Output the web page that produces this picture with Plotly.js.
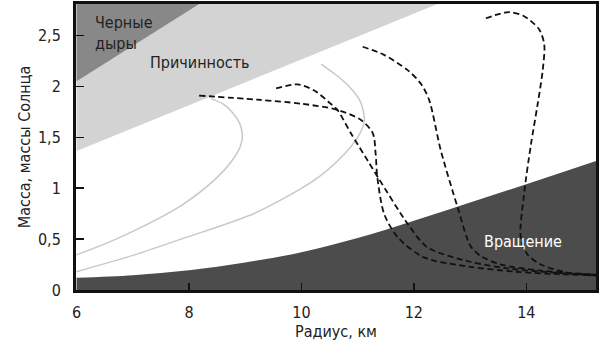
<!DOCTYPE html>
<html>
<head>
<meta charset="utf-8">
<script src="https://cdn.plot.ly/plotly-3.0.1.min.js"></script>
<style>html,body{margin:0;padding:0;background:#fff;}#chart{width:600px;height:343px;}</style>
</head>
<body>
<div id="chart"></div>
<script>
// Region boundaries (radius km, mass in solar masses)
const causalityR = [6, 13];
const causalityM = [1.365, 2.94];
const blackHoleR = [6, 8.6];
const blackHoleM = [2.05, 2.956];
const rotationR = [6, 7, 8, 9, 10, 11, 12, 13, 14, 15.25];
const rotationM = [0.12, 0.145, 0.195, 0.27, 0.37, 0.51, 0.68, 0.86, 1.04, 1.27];

// Gray solid curves
const gray1R = [6.0, 6.58, 7.2, 7.86, 8.45, 8.75, 8.92, 8.95, 8.9, 8.78, 8.6, 8.39];
const gray1M = [0.345, 0.47, 0.63, 0.83, 1.08, 1.26, 1.42, 1.52, 1.64, 1.74, 1.83, 1.88];
const gray2R = [6.0, 7.0, 7.86, 9.19, 10.23, 10.7, 11.0, 11.12, 11.05, 10.85, 10.6, 10.35];
const gray2M = [0.18, 0.34, 0.50, 0.76, 1.08, 1.3, 1.5, 1.66, 1.85, 2.0, 2.12, 2.22];

// Dashed curves
const dashAR = [8.18, 9.22, 10.0, 10.64, 11.06, 11.27, 11.32, 11.35, 11.47, 11.71, 12.18, 12.98, 13.8, 14.6, 15.25];
const dashAM = [1.91, 1.87, 1.83, 1.77, 1.67, 1.54, 1.34, 1.11, 0.75, 0.52, 0.32, 0.23, 0.18, 0.155, 0.145];
const dashBR = [9.55, 9.93, 10.23, 10.52, 10.64, 10.88, 11.18, 11.38, 11.89, 12.24, 12.98, 13.7, 14.5, 15.25];
const dashBM = [1.98, 2.02, 1.96, 1.83, 1.77, 1.54, 1.27, 1.09, 0.65, 0.42, 0.28, 0.21, 0.17, 0.15];
const dashCR = [11.09, 11.47, 11.89, 12.12, 12.27, 12.48, 12.78, 13.01, 13.2, 13.55, 14.26, 15.25];
const dashCM = [2.39, 2.31, 2.16, 2.03, 1.87, 1.37, 0.81, 0.43, 0.33, 0.25, 0.19, 0.15];
const dashDR = [13.28, 13.69, 13.96, 14.23, 14.32, 14.29, 14.2, 14.08, 13.96, 13.9, 14.02, 14.26, 14.73, 15.25];
const dashDM = [2.67, 2.73, 2.69, 2.56, 2.41, 2.15, 1.82, 1.42, 0.94, 0.52, 0.35, 0.25, 0.17, 0.14];

// Axes
const xTicks = [6, 8, 10, 12, 14];
const yTicks = [0, 0.5, 1, 1.5, 2, 2.5];
const yTickText = ['0', '0,5', '1', '1,5', '2', '2,5'];
const xRange = [5.99, 15.24];
const yRange = [0, 2.81];

const FONT = '"Liberation Sans Narrow", "DejaVu Sans Condensed", "Roboto", sans-serif';

const padTop = 3.2;

const dashLine = {color: '#111', width: 1.8, dash: '6px,3.5px', shape: 'spline', smoothing: 0.8};
const grayLine = {color: '#c8c8c8', width: 1.5, shape: 'spline', smoothing: 0.8};

const traces = [
  { // causality (light gray) - area above causality line
    x: causalityR.concat([causalityR[1], causalityR[0]]),
    y: causalityM.concat([padTop, padTop]),
    mode: 'lines', fill: 'toself', fillcolor: '#d3d3d3', line: {width: 0}, hoverinfo: 'skip'
  },
  { // black holes
    x: blackHoleR.concat([blackHoleR[1], blackHoleR[0]]),
    y: blackHoleM.concat([padTop, padTop]),
    mode: 'lines', fill: 'toself', fillcolor: '#888888', line: {width: 0}, hoverinfo: 'skip'
  },
  { // rotation
    x: rotationR, y: rotationM,
    mode: 'lines', fill: 'tozeroy', fillcolor: '#4c4c4c',
    line: {width: 0, color: '#4c4c4c', shape: 'spline', smoothing: 1}, hoverinfo: 'skip'
  },
  {x: gray1R, y: gray1M, mode: 'lines', line: grayLine},
  {x: gray2R, y: gray2M, mode: 'lines', line: grayLine},
  {x: dashAR, y: dashAM, mode: 'lines', line: dashLine},
  {x: dashBR, y: dashBM, mode: 'lines', line: dashLine},
  {x: dashCR, y: dashCM, mode: 'lines', line: dashLine},
  {x: dashDR, y: dashDM, mode: 'lines', line: dashLine}
];

const layout = {
  width: 600, height: 343,
  margin: {l: 76, r: 4, t: 4, b: 53},
  paper_bgcolor: '#fff', plot_bgcolor: '#fff',
  showlegend: false,
  font: {family: FONT, size: 16, color: '#222'},
  xaxis: {
    range: xRange, tickvals: xTicks, ticktext: xTicks.map(String),
    ticks: 'inside', ticklen: 7, tickwidth: 1.5, tickcolor: '#111',
    showline: true, linewidth: 3, linecolor: '#111', mirror: true,
    showgrid: false, zeroline: false, ticklabelstandoff: 6,
    tickfont: {family: FONT, size: 16, color: '#222'},
    title: {text: 'Радиус, км', font: {family: FONT, size: 16, color: '#222'}, standoff: 2}
  },
  yaxis: {
    range: yRange, tickvals: yTicks, ticktext: yTickText,
    ticks: 'inside', ticklen: 8, tickwidth: 1.5, tickcolor: '#111',
    showline: true, linewidth: 3, linecolor: '#111', mirror: true,
    showgrid: false, zeroline: false, ticklabelstandoff: 9,
    tickfont: {family: FONT, size: 16, color: '#222'},
    title: {text: 'Масса, массы Солнца', font: {family: FONT, size: 16, color: '#222'}, standoff: 4}
  },
  annotations: [
    {x: 6.3, y: 2.53, xref: 'x', yref: 'y', text: 'Черные<br>дыры', showarrow: false,
     xanchor: 'left', yanchor: 'middle', align: 'left', font: {family: FONT, size: 16, color: '#222'}},
    {x: 8.2, y: 2.24, xref: 'x', yref: 'y', text: 'Причинность', showarrow: false,
     xanchor: 'center', yanchor: 'middle', font: {family: FONT, size: 16, color: '#222'}},
    {x: 13.95, y: 0.474, xref: 'x', yref: 'y', text: 'Вращение', showarrow: false,
     xanchor: 'center', yanchor: 'middle', font: {family: FONT, size: 16, color: '#fff'}}
  ]
};

Plotly.newPlot('chart', traces, layout, {staticPlot: true, displayModeBar: false});
</script>
</body>
</html>
